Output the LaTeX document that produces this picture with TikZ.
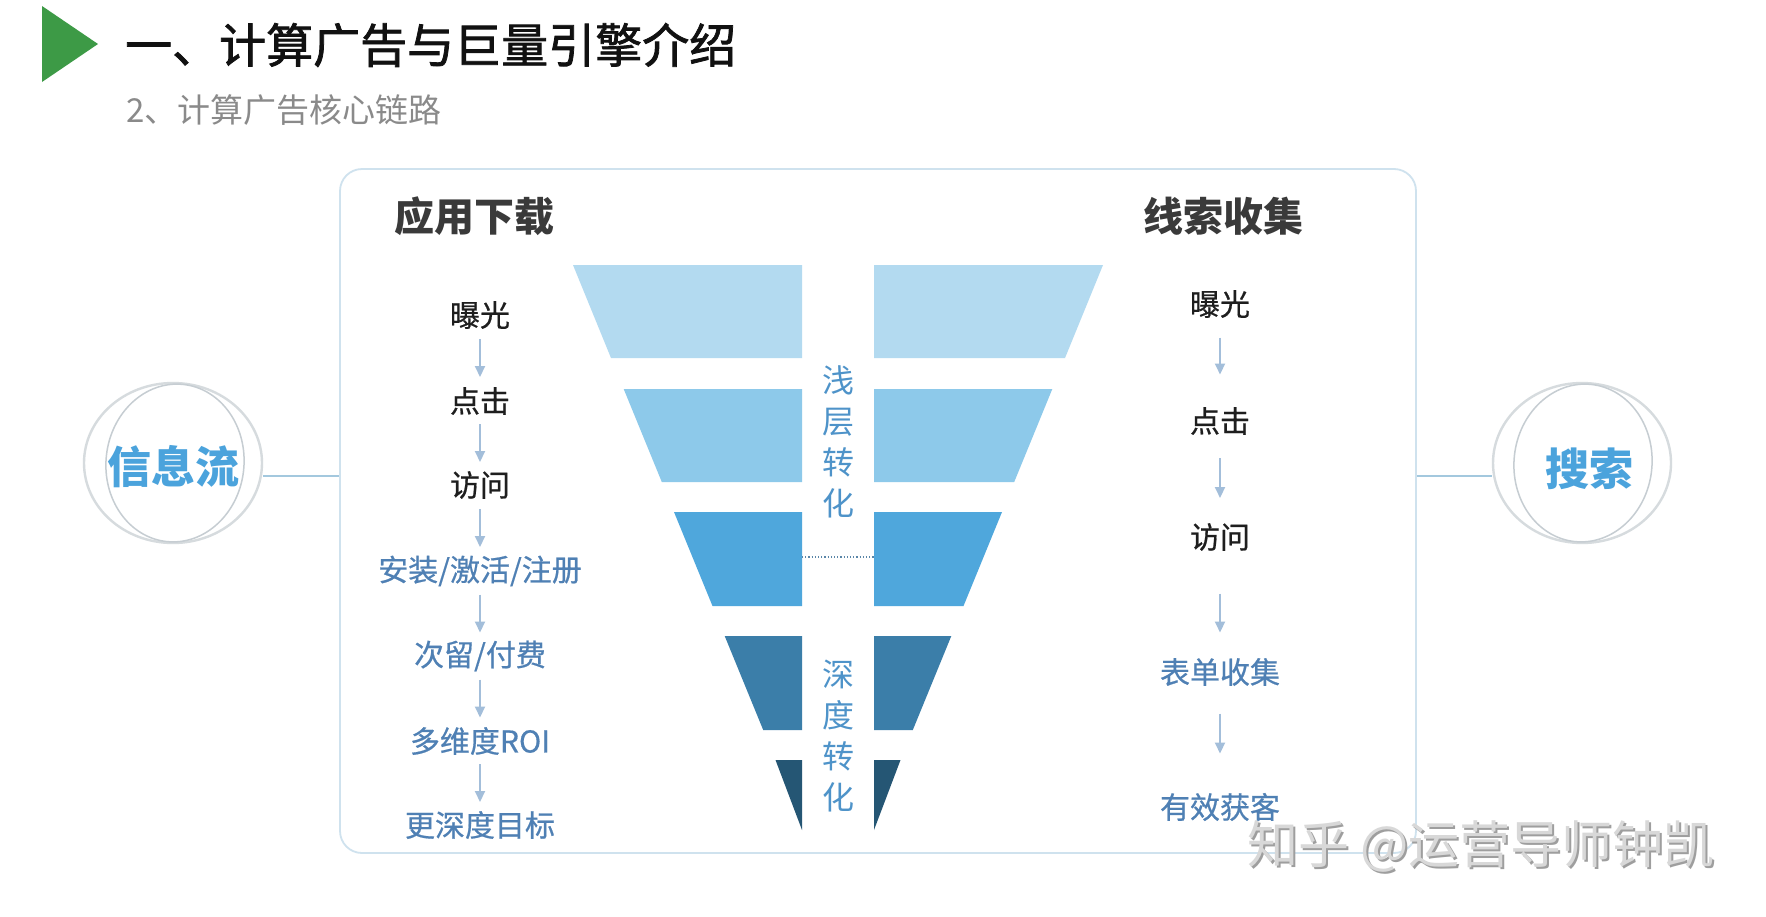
\documentclass[tikz,border=0pt]{standalone}
\usepackage{fontspec}
\setmainfont{Noto Sans CJK SC}
\newfontfamily\heavyttl{Noto Sans CJK SC}[FakeBold=1.6]
\newfontfamily\semiitem{Noto Sans CJK SC}[FakeBold=0.6]
\usetikzlibrary{shapes.geometric,arrows.meta,calc}
\definecolor{greenc}{HTML}{3D9A46}
\definecolor{titlec}{HTML}{111111}
\definecolor{subc}{HTML}{8A8A8A}
\definecolor{hdrc}{HTML}{3A3A3A}
\definecolor{itemblack}{HTML}{1E1E1E}
\definecolor{itemblue}{HTML}{4F80B4}
\definecolor{arrowc}{HTML}{A3BEDA}
\definecolor{framec}{HTML}{CFE2EE}
\definecolor{linkc}{HTML}{A3C8DE}
\definecolor{ringc}{HTML}{D6DBDE}
\definecolor{ringcb}{HTML}{C6CDD2}
\definecolor{circtext}{HTML}{4BA3DC}
\definecolor{vblue}{HTML}{4E93C9}
\definecolor{fa}{HTML}{B3DAF0}
\definecolor{fb}{HTML}{8DC9EA}
\definecolor{fc}{HTML}{4FA7DC}
\definecolor{fd}{HTML}{3B7EA9}
\definecolor{fe}{HTML}{255674}
\definecolor{dotc}{HTML}{5A86A8}
\definecolor{wmshade}{HTML}{9E9E9E}
\definecolor{wmface}{HTML}{D8D8D8}
\begin{document}
\begin{tikzpicture}[x=1pt,y=-1pt,
  item/.style={inner sep=2pt,font=\semiitem\fontsize{30}{36}\selectfont,text=itemblack},
  bitem/.style={item,text=itemblue},
  hdr/.style={inner sep=0pt,font=\fontsize{40}{48}\selectfont\bfseries,text=hdrc},
  arr/.style={draw=arrowc,line width=2pt,-{Triangle[width=10pt,length=11pt]}},
  link/.style={draw=linkc,line width=1.8pt},
  ring/.style={ellipse,draw=ringc,line width=2.4pt,minimum width=178pt,minimum height=160pt,inner sep=0pt},
  inring/.style={ellipse,draw=ringcb,line width=1.5pt,minimum width=138pt,minimum height=158pt,inner sep=0pt},
  ctext/.style={inner sep=0pt,font=\fontsize{44}{50}\selectfont\bfseries,text=circtext},
  vtext/.style={inner sep=0pt,align=center,font=\fontsize{32}{41}\selectfont,text=vblue},
  frame/.style={draw=framec,line width=1.8pt,rounded corners=22pt,minimum width=1076pt,minimum height=684pt,inner sep=0pt},
  wm/.style={inner sep=0pt,font=\fontsize{51}{56}\selectfont}
]
\useasboundingbox[fill=white] (0,0) rectangle (1766,916);

% header
\fill[greenc] (42,6) -- (98,44) -- (42,82) -- cycle;
\node[anchor=west,inner sep=0pt,font=\heavyttl\fontsize{47}{54}\selectfont,text=titlec] (title) at (125,45) {一、计算广告与巨量引擎介绍};
\node[anchor=west,inner sep=0pt,font=\fontsize{33}{40}\selectfont,text=subc] (subtitle) at (126,110) {2、计算广告核心链路};

% frame
\node[frame] (box) at (878,511) {};

% funnel, left halves
\fill[fa] (573,265) -- (802,265) -- (802,358) -- (611,358) -- cycle;
\fill[fb] (623.7,389) -- (802,389) -- (802,482) -- (661.8,482) -- cycle;
\fill[fc] (674,512) -- (802,512) -- (802,606) -- (712.5,606) -- cycle;
\fill[fd] (724.7,636) -- (802,636) -- (802,730) -- (763.2,730) -- cycle;
\fill[fe] (775.5,760) -- (802,760) -- (802,830) -- cycle;
% funnel, right halves
\fill[fa] (874,265) -- (1103,265) -- (1065,358) -- (874,358) -- cycle;
\fill[fb] (874,389) -- (1052.3,389) -- (1014.2,482) -- (874,482) -- cycle;
\fill[fc] (874,512) -- (1002,512) -- (963.5,606) -- (874,606) -- cycle;
\fill[fd] (874,636) -- (951.3,636) -- (912.8,730) -- (874,730) -- cycle;
\fill[fe] (874,760) -- (900.5,760) -- (874,830) -- cycle;
\draw[dotc,line width=1.2pt,dotted] (802,557) -- (874,557);

\node[vtext] (shallow) at (838,442) {浅\\层\\转\\化};
\node[vtext] (deep) at (838,736) {深\\度\\转\\化};

% headings
\node[hdr] (hl) at (474,216) {应用下载};
\node[hdr] (hr) at (1223,216) {线索收集};

% left chain
\node[item]  (l1) at (480,315) {曝光};
\node[item]  (l2) at (480,401) {点击};
\node[item]  (l3) at (480,485) {访问};
\node[bitem] (l4) at (480,571) {安装/激活/注册};
\node[bitem] (l5) at (480,656) {次留/付费};
\node[bitem] (l6) at (480,741) {多维度ROI};
\node[bitem] (l7) at (480,825) {更深度目标};
\foreach \a/\b in {l1/l2,l2/l3,l3/l4,l4/l5,l5/l6,l6/l7}{
  \draw[arr] ($(\a)!0.5!(\b)+(0,-19)$) -- ($(\a)!0.5!(\b)+(0,19)$);
}

% right chain
\node[item]  (r1) at (1220,304) {曝光};
\node[item]  (r2) at (1220,421) {点击};
\node[item]  (r3) at (1220,537) {访问};
\node[bitem] (r4) at (1220,672) {表单收集};
\node[bitem] (r5) at (1220,807) {有效获客};
\draw[arr] ($(r1)!0.5!(r2)+(0,-25)$) -- ($(r1)!0.5!(r2)+(0,12)$);
\draw[arr] ($(r2)!0.5!(r3)+(0,-21)$) -- ($(r2)!0.5!(r3)+(0,19)$);
\draw[arr] ($(r3)!0.5!(r4)+(0,-11)$) -- ($(r3)!0.5!(r4)+(0,28)$);
\draw[arr] ($(r4)!0.5!(r5)+(0,-26)$) -- ($(r4)!0.5!(r5)+(0,14)$);

% side circles
\node[ring] (lc) at (173,463) {};
\node[inring,rotate=-6] (lci) at (175,463) {};
\node[ctext] (lt) at (173,467) {信息流};
\node[ring] (rc) at (1582,463) {};
\node[inring,rotate=-6] (rci) at (1583,463) {};
\node[ctext] (rt) at (1589,469) {搜索};

\coordinate (lj) at (box.west |- 0,476);
\coordinate (rj) at (box.east |- 0,476);
\draw[link] (lc.east |- lj) -- (lj);
\draw[link] (rj) -- (rc.west |- rj);

% watermark
\node[wm,text=wmshade] (wms) at (1483,848) {知乎 @运营导师钟凯};
\node[wm,text=wmface] (wmt) at (1481,846) {知乎 @运营导师钟凯};
\end{tikzpicture}
\end{document}
